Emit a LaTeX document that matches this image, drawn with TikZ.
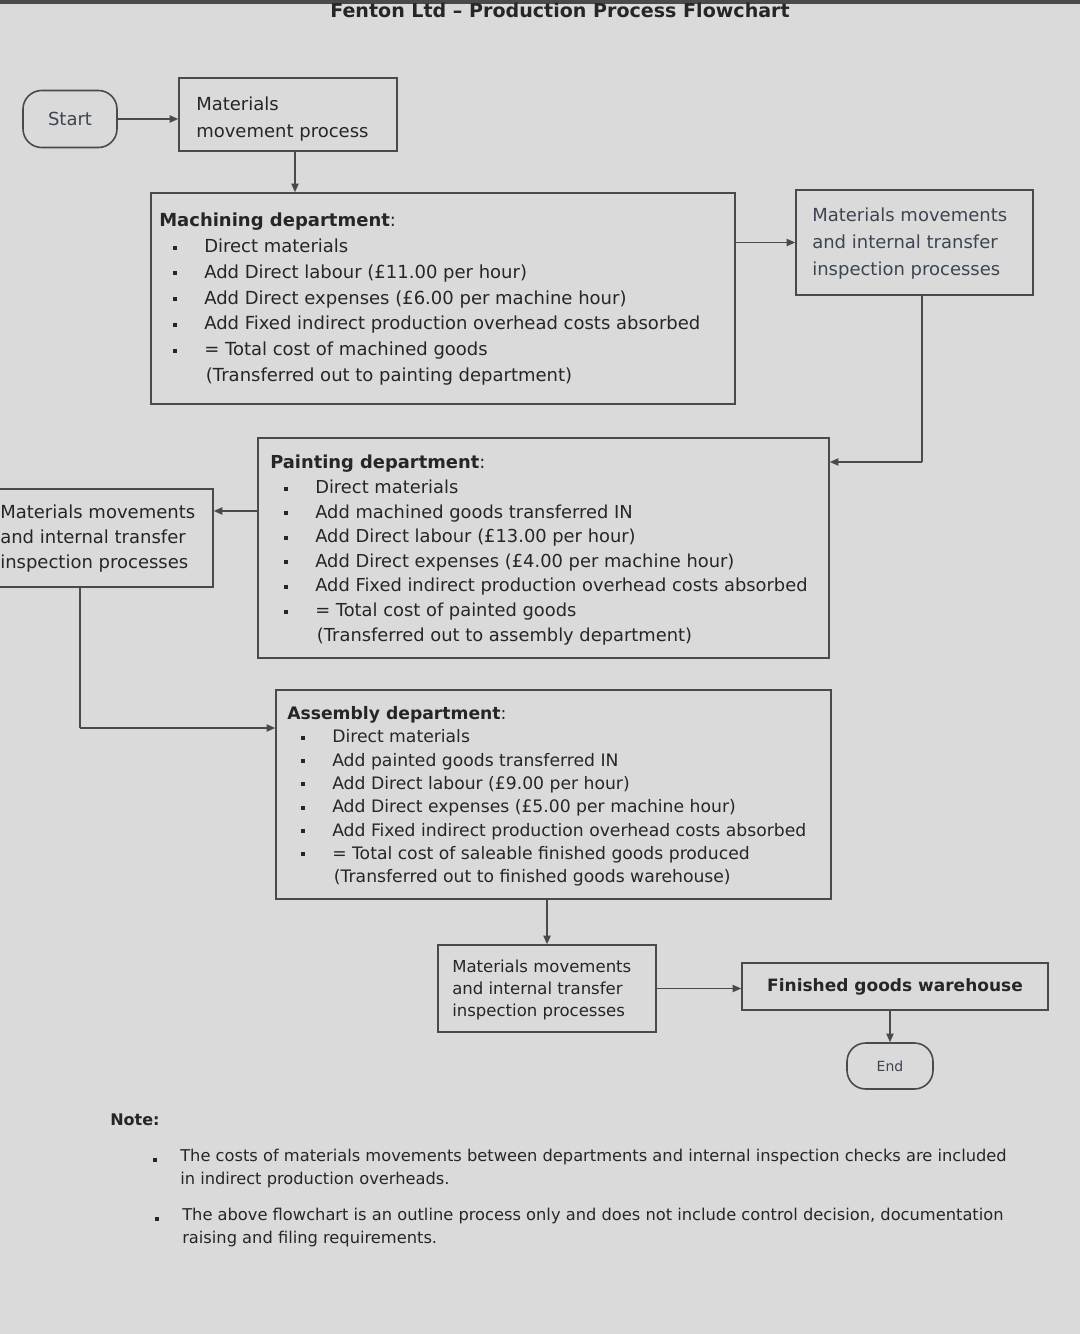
\documentclass[tikz,border=0pt]{standalone}
\usepackage{fontspec}
\setmainfont{DejaVu Sans}
\usetikzlibrary{arrows.meta,calc}
\definecolor{bg}{HTML}{DADADA}
\definecolor{ln}{HTML}{4A4A4A}
\definecolor{tx}{HTML}{262626}
\definecolor{tx2}{HTML}{3C4652}
\newcommand\bul[1]{\hspace*{10.5pt}\makebox[23.25pt][l]{\rule[2.2pt]{3pt}{3pt}}#1}
\newcommand\cont[1]{\hspace*{35pt}#1}
\tikzset{
 box/.style={draw=ln, line width=1.2pt, inner sep=0pt},
 term/.style={box, rounded corners=14pt},
 txt/.style={inner sep=0pt, anchor=north west, align=left, text=tx},
 arr/.style={draw=ln, line width=1pt, -{Triangle[length=6.5pt,width=5.5pt]}},
 conn/.style={draw=ln, line width=1pt},
 sq/.style={fill=tx, inner sep=0pt, minimum size=2.8pt}
}
\begin{document}
\begin{tikzpicture}[x=0.75pt,y=-0.75pt]
\fill[bg] (0,0) rectangle (1080,1334);
\fill[ln] (0,0) rectangle (1080,4);
\useasboundingbox (0,0) rectangle (1080,1334);

% title
\node[text=tx, font=\bfseries\fontsize{14.3}{16}\selectfont] (title) at (560,10) {Fenton Ltd – Production Process Flowchart};

% boxes
\node[term, minimum width=70.5pt, minimum height=42.75pt, text=tx2, font=\fontsize{13.5}{16}\selectfont] (start) at (70,119) {Start};
\node[box, minimum width=163.5pt, minimum height=54.75pt] (mmp) at (288,114.5) {};
\node[box, minimum width=438pt, minimum height=158.25pt] (mach) at (443,298.5) {};
\node[box, minimum width=177.75pt, minimum height=78.75pt] (mmi1) at (914.5,242.5) {};
\node[box, minimum width=428.25pt, minimum height=165pt] (paint) at (543.5,548) {};
\node[box, minimum width=163.5pt, minimum height=73.5pt] (mmi2) at (104,538) {};
\node[box, minimum width=416.25pt, minimum height=156.75pt] (asm) at (553.5,794.5) {};
\node[box, minimum width=163.5pt, minimum height=65.25pt] (mmi3) at (547,988.5) {};
\node[box, minimum width=229.5pt, minimum height=35.25pt, text=tx, font=\bfseries\fontsize{12.75}{15}\selectfont] (fgw) at (895,986.5) {Finished goods warehouse};
\node[term, minimum width=64.5pt, minimum height=34.5pt, text=tx2, font=\fontsize{10.5}{12}\selectfont] (end) at (890,1066) {End};

% box texts
\node[txt, font=\fontsize{13.5}{20.25}\selectfont] (mmpt) at (196,97) {Materials\\movement process};
\node[txt, font=\fontsize{13.5}{19.3}\selectfont] (macht) at (159,213) {\textbf{Machining department}:\\
\bul{Direct materials}\\
\bul{Add Direct labour (£11.00 per hour)}\\
\bul{Add Direct expenses (£6.00 per machine hour)}\\
\bul{Add Fixed indirect production overhead costs absorbed}\\
\bul{= Total cost of machined goods}\\
\cont{(Transferred out to painting department)}};
\node[txt, text=tx2, font=\fontsize{13.5}{19.9}\selectfont] (mmi1t) at (812,208) {Materials movements\\and internal transfer\\inspection processes};
\node[txt, font=\fontsize{13.4}{18.45}\selectfont] (paintt) at (270,455) {\textbf{Painting department}:\\
\bul{Direct materials}\\
\bul{Add machined goods transferred IN}\\
\bul{Add Direct labour (£13.00 per hour)}\\
\bul{Add Direct expenses (£4.00 per machine hour)}\\
\bul{Add Fixed indirect production overhead costs absorbed}\\
\bul{= Total cost of painted goods}\\
\cont{(Transferred out to assembly department)}};
\node[txt, font=\fontsize{13.5}{18.75}\selectfont] (mmi2t) at (0,505) {Materials movements\\and internal transfer\\inspection processes};
\node[txt, font=\fontsize{12.9}{17.5}\selectfont] (asmt) at (287,706) {\textbf{Assembly department}:\\
\bul{Direct materials}\\
\bul{Add painted goods transferred IN}\\
\bul{Add Direct labour (£9.00 per hour)}\\
\bul{Add Direct expenses (£5.00 per machine hour)}\\
\bul{Add Fixed indirect production overhead costs absorbed}\\
\bul{= Total cost of saleable finished goods produced}\\
\cont{(Transferred out to finished goods warehouse)}};
\node[txt, font=\fontsize{12.4}{16.5}\selectfont] (mmi3t) at (452,960) {Materials movements\\and internal transfer\\inspection processes};

% connectors
\coordinate (c1) at (922,462);
\coordinate (c2) at (0,511);
\coordinate (c3) at (80,728);
\draw[arr] (start.east) -- (start.east -| mmp.west);
\draw[arr] ([xshift=5.25pt]mmp.south) -- ([xshift=5.25pt]mmp.south |- mach.north);
\draw[arr] (mmi1.west -| mach.east) -- (mmi1.west);
\draw[conn] (c1 |- mmi1.south) -- (c1);
\draw[arr] (c1) -- (c1 -| paint.east);
\draw[arr] (c2 -| paint.west) -- (c2 -| mmi2.east);
\draw[conn] (c3 |- mmi2.south) -- (c3);
\draw[arr] (c3) -- (c3 -| asm.west);
\draw[arr] (mmi3.north |- asm.south) -- (mmi3.north);
\draw[arr] (mmi3.east) -- (mmi3.east -| fgw.west);
\draw[arr] (end.north |- fgw.south) -- (end.north);

% note
\node[anchor=west, inner sep=0pt, text=tx, font=\bfseries\fontsize{12}{14}\selectfont] (note) at (110,1120) {Note:};
\node[sq] (nb1) at (155,1160) {};
\node[sq] (nb2) at (157,1219) {};
\node[txt, font=\fontsize{12.2}{17.25}\selectfont] (n1) at (180,1149) {The costs of materials movements between departments and internal inspection checks are included\\in indirect production overheads.};
\node[txt, font=\fontsize{12.2}{17.25}\selectfont] (n2) at (182,1208) {The above flowchart is an outline process only and does not include control decision, documentation\\raising and filing requirements.};
\end{tikzpicture}
\end{document}
